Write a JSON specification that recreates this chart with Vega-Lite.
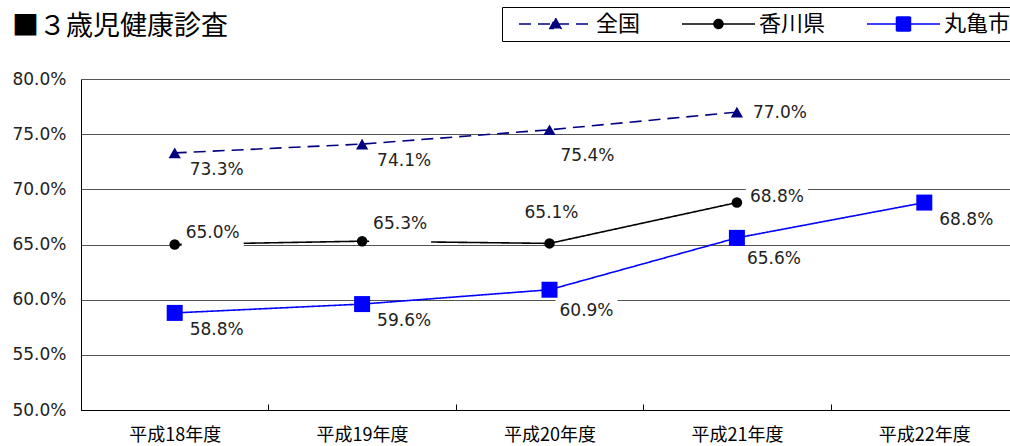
{
  "$schema": "https://vega.github.io/schema/vega-lite/v6.json",
  "width": 937,
  "height": 331,
  "autosize": {"type": "none"},
  "padding": {"left": 81, "top": 79, "right": 0, "bottom": 36},
  "background": "#ffffff",
  "title": {"text": "■３歳児健康診査", "anchor": "start", "dx": 0, "dy": 61, "offset": 0, "font": "Noto Sans CJK JP", "fontSize": 27, "fontWeight": "normal", "color": "#000000", "baseline": "bottom"},
  "config": {"view": {"stroke": null}, "font": "DejaVu Sans"},
  "data": {"values": [
    {"series": "全国", "year": "平成18年度", "value": 0.733},
    {"series": "全国", "year": "平成19年度", "value": 0.741},
    {"series": "全国", "year": "平成20年度", "value": 0.754},
    {"series": "全国", "year": "平成21年度", "value": 0.770},
    {"series": "香川県", "year": "平成18年度", "value": 0.650},
    {"series": "香川県", "year": "平成19年度", "value": 0.653},
    {"series": "香川県", "year": "平成20年度", "value": 0.651},
    {"series": "香川県", "year": "平成21年度", "value": 0.688},
    {"series": "丸亀市", "year": "平成18年度", "value": 0.588},
    {"series": "丸亀市", "year": "平成19年度", "value": 0.596},
    {"series": "丸亀市", "year": "平成20年度", "value": 0.609},
    {"series": "丸亀市", "year": "平成21年度", "value": 0.656},
    {"series": "丸亀市", "year": "平成22年度", "value": 0.688}
  ]},
  "encoding": {
    "x": {"field": "year", "type": "ordinal", "sort": ["平成18年度", "平成19年度", "平成20年度", "平成21年度", "平成22年度"], "bandPosition": 0.5,
      "scale": {"type": "band", "paddingInner": 0, "paddingOuter": 0},
      "axis": {"title": null, "labelAngle": 0, "tickBand": "extent", "tickSize": -6, "tickColor": "#000000", "domainColor": "#000000", "labelFont": "Noto Sans CJK JP", "labelFontSize": 18, "labelColor": "#000000", "labelPadding": 22, "grid": false}},
    "y": {"field": "value", "type": "quantitative", "scale": {"domain": [0.5, 0.8], "nice": false, "zero": false},
      "axis": {"title": null, "format": ".1%", "values": [0.5, 0.55, 0.6, 0.65, 0.7, 0.75, 0.8], "ticks": false, "domainColor": "#000000", "gridColor": "#555555", "gridOpacity": 1, "labelFont": "DejaVu Sans", "labelFontSize": 17, "labelColor": "#222222", "labelPadding": 15}}
  },
  "layer": [
    {
      "mark": {"type": "line", "strokeWidth": 1.6},
      "encoding": {
        "color": {"field": "series", "type": "nominal",
          "scale": {"domain": ["全国", "香川県", "丸亀市"], "range": ["#000080", "#000000", "#0000ff"]},
          "legend": {"title": null, "orient": "none", "legendX": 421, "legendY": -72, "direction": "horizontal",
            "strokeColor": "#000000", "fillColor": "#ffffff", "padding": 6, "symbolSize": 196, "symbolStrokeWidth": 1.5,
            "labelOffset": 66, "labelFont": "Noto Sans CJK JP", "labelFontSize": 22, "labelColor": "#000000", "columnPadding": 30,
            "symbolType": {"expr": "datum.value === '全国' ? 'M-1,0M0,0L10.43,0M5.21,-0.85L6.01,0.65L4.41,0.65Z' : datum.value === '香川県' ? 'M-1,0M0,0L10.43,0M5.85,0A0.64,0.64,0,1,1,4.57,0A0.64,0.64,0,1,1,5.85,0Z' : 'M-1,0M0,0L10.43,0M4.21,-1L6.21,-1L6.21,1L4.21,1Z'"},
            "symbolDash": {"expr": "datum.value === '全国' ? [8, 6] : [1, 0]"},
            "symbolFillColor": {"expr": "datum.value === '全国' ? '#000080' : datum.value === '香川県' ? '#000000' : '#0000ff'"},
            "symbolOpacity": 1}},
        "strokeDash": {"field": "series", "type": "nominal",
          "scale": {"domain": ["全国", "香川県", "丸亀市"], "range": [[12, 7], [1, 0], [1, 0]]}, "legend": null}
      }
    },
    {"transform": [{"filter": "datum.series === '全国'"}], "mark": {"type": "point", "shape": "triangle-up", "filled": true, "size": 150, "color": "#000080", "opacity": 1}},
    {"transform": [{"filter": "datum.series === '香川県'"}], "mark": {"type": "point", "shape": "circle", "filled": true, "size": 110, "color": "#000000", "opacity": 1}},
    {"transform": [{"filter": "datum.series === '丸亀市'"}], "mark": {"type": "point", "shape": "square", "filled": true, "size": 256, "color": "#0000ff", "opacity": 1}},
    {"transform": [{"filter": "(datum.series === '全国' && (datum.year === '平成18年度' || datum.year === '平成19年度')) || (datum.series === '丸亀市' && (datum.year === '平成18年度' || datum.year === '平成19年度' || datum.year === '平成22年度'))"}],
     "layer": [
      {"mark": {"type": "point", "shape": "M11,6L73,6L73,28L11,28Z", "size": 4, "filled": true, "color": "#ffffff", "opacity": 1}},
      {"mark": {"type": "text", "align": "left", "baseline": "middle", "dx": 15, "dy": 17, "font": "DejaVu Sans", "fontSize": 17, "color": "#222222"}, "encoding": {"text": {"field": "value", "format": ".1%"}}}
    ]},
    {"transform": [{"filter": "datum.series === '全国' && datum.year === '平成20年度'"}],
     "layer": [
      {"mark": {"type": "point", "shape": "M7,15L69,15L69,37L7,37Z", "size": 4, "filled": true, "color": "#ffffff", "opacity": 1}},
      {"mark": {"type": "text", "align": "left", "baseline": "middle", "dx": 11, "dy": 26, "font": "DejaVu Sans", "fontSize": 17, "color": "#222222"}, "encoding": {"text": {"field": "value", "format": ".1%"}}}
    ]},
    {"transform": [{"filter": "datum.series === '丸亀市' && (datum.year === '平成20年度' || datum.year === '平成21年度')"}],
     "layer": [
      {"mark": {"type": "point", "shape": "M6,10L68,10L68,32L6,32Z", "size": 4, "filled": true, "color": "#ffffff", "opacity": 1}},
      {"mark": {"type": "text", "align": "left", "baseline": "middle", "dx": 10, "dy": 21, "font": "DejaVu Sans", "fontSize": 17, "color": "#222222"}, "encoding": {"text": {"field": "value", "format": ".1%"}}}
    ]},
    {"transform": [{"filter": "datum.series === '全国' && datum.year === '平成21年度'"}],
     "layer": [
      {"mark": {"type": "point", "shape": "M12,-10L74,-10L74,12L12,12Z", "size": 4, "filled": true, "color": "#ffffff", "opacity": 1}},
      {"mark": {"type": "text", "align": "left", "baseline": "middle", "dx": 16, "dy": 1, "font": "DejaVu Sans", "fontSize": 17, "color": "#222222"}, "encoding": {"text": {"field": "value", "format": ".1%"}}}
    ]},
    {"transform": [{"filter": "datum.series === '香川県' && datum.year === '平成21年度'"}],
     "layer": [
      {"mark": {"type": "point", "shape": "M9,-17L71,-17L71,5L9,5Z", "size": 4, "filled": true, "color": "#ffffff", "opacity": 1}},
      {"mark": {"type": "text", "align": "left", "baseline": "middle", "dx": 13, "dy": -6, "font": "DejaVu Sans", "fontSize": 17, "color": "#222222"}, "encoding": {"text": {"field": "value", "format": ".1%"}}}
    ]},
    {"transform": [{"filter": "datum.series === '香川県' && datum.year === '平成18年度'"}],
     "layer": [
      {"mark": {"type": "point", "shape": "M7,-23L69,-23L69,2L7,2Z", "size": 4, "filled": true, "color": "#ffffff", "opacity": 1}},
      {"mark": {"type": "text", "align": "left", "baseline": "middle", "dx": 11, "dy": -12, "font": "DejaVu Sans", "fontSize": 17, "color": "#222222"}, "encoding": {"text": {"field": "value", "format": ".1%"}}}
    ]},
    {"transform": [{"filter": "datum.series === '香川県' && datum.year === '平成19年度'"}],
     "layer": [
      {"mark": {"type": "point", "shape": "M7,-28L69,-28L69,3L7,3Z", "size": 4, "filled": true, "color": "#ffffff", "opacity": 1}},
      {"mark": {"type": "text", "align": "left", "baseline": "middle", "dx": 11, "dy": -17, "font": "DejaVu Sans", "fontSize": 17, "color": "#222222"}, "encoding": {"text": {"field": "value", "format": ".1%"}}}
    ]},
    {"transform": [{"filter": "datum.series === '香川県' && datum.year === '平成20年度'"}],
     "layer": [
      {"mark": {"type": "point", "shape": "M-29,-41L33,-41L33,-19L-29,-19Z", "size": 4, "filled": true, "color": "#ffffff", "opacity": 1}},
      {"mark": {"type": "text", "align": "center", "baseline": "middle", "dx": 2, "dy": -30, "font": "DejaVu Sans", "fontSize": 17, "color": "#222222"}, "encoding": {"text": {"field": "value", "format": ".1%"}}}
    ]}
  ]
}
